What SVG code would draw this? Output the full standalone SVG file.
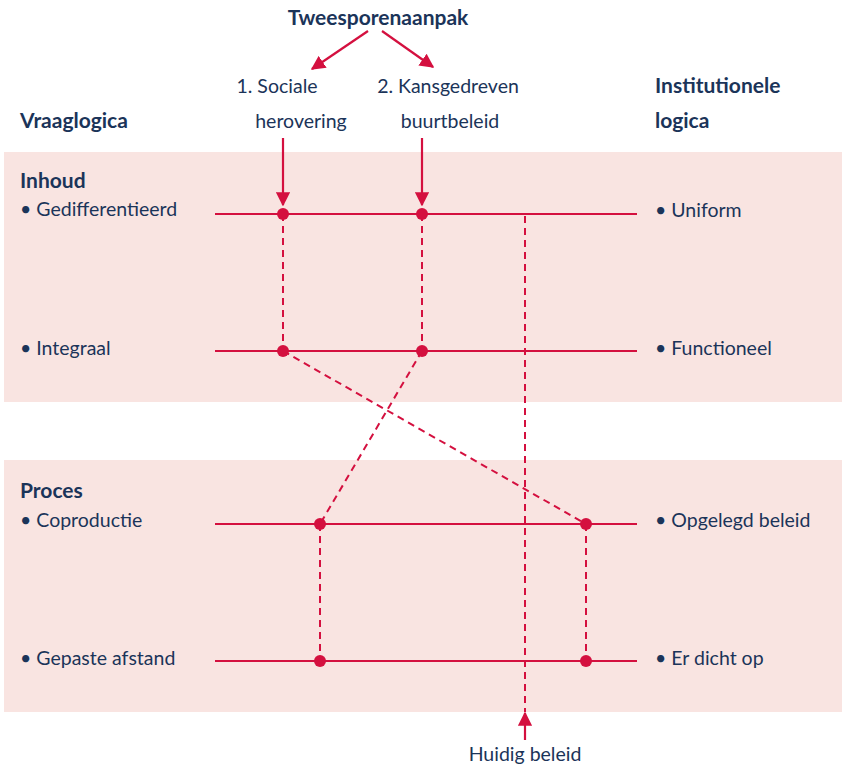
<svg xmlns="http://www.w3.org/2000/svg" width="842" height="768" viewBox="0 0 842 768">
<style>
text{font-family:Lato,"Open Sans","Liberation Sans",sans-serif;font-size:19.5px;fill:#1b3459}
.b{font-weight:bold;font-size:21px}
.m{text-anchor:middle}
.band{fill:#f9e4e1}
.ax{stroke:#d4103f;stroke-width:2.2;fill:none}
.d{stroke:#d4103f;stroke-width:2;stroke-dasharray:7,5;fill:none}
.dot{fill:#d4103f}
</style>
<defs>
<marker id="ah" viewBox="0 0 10 10" refX="9" refY="5" markerWidth="6.5" markerHeight="6.5" orient="auto" markerUnits="strokeWidth">
<path d="M0,0 L10,5 L0,10 z" fill="#d4103f"/>
</marker>
</defs>
<rect class="band" x="4" y="152" width="838" height="250"/>
<rect class="band" x="4" y="460" width="838" height="252"/>

<g id="title">
<text class="b m" x="378" y="25">Tweesporenaanpak</text>
</g>
<g id="spoor1">
<text class="m" x="277" y="93">1. Sociale</text>
<text class="m" x="301" y="128">herovering</text>
</g>
<g id="spoor2">
<text class="m" x="448" y="93">2. Kansgedreven</text>
<text class="m" x="450" y="128">buurtbeleid</text>
</g>
<g id="vraaglogica"><text class="b" x="20" y="128">Vraaglogica</text></g>
<g id="institutionele"><text class="b" x="655" y="93">Institutionele</text><text class="b" x="655" y="128">logica</text></g>
<g id="inhoud"><text class="b" x="20" y="188">Inhoud</text></g>
<g id="proces"><text class="b" x="20" y="498">Proces</text></g>
<g id="l1"><text x="20" y="216">• Gedifferentieerd</text></g>
<g id="l2"><text x="20" y="355">• Integraal</text></g>
<g id="l3"><text x="20" y="527">• Coproductie</text></g>
<g id="l4"><text x="20" y="665">• Gepaste afstand</text></g>
<g id="r1"><text x="655" y="217">• Uniform</text></g>
<g id="r2"><text x="655" y="355">• Functioneel</text></g>
<g id="r3"><text x="655" y="527">• Opgelegd beleid</text></g>
<g id="r4"><text x="655" y="665">• Er dicht op</text></g>
<g id="huidig"><text class="m" x="525" y="761">Huidig beleid</text></g>

<g id="connectors">
<line class="ax" x1="215" y1="214" x2="637" y2="214"/>
<line class="ax" x1="215" y1="351" x2="637" y2="351"/>
<line class="ax" x1="215" y1="524" x2="637" y2="524"/>
<line class="ax" x1="215" y1="661" x2="637" y2="661"/>
<line class="ax" x1="368" y1="31" x2="312" y2="69" marker-end="url(#ah)"/>
<line class="ax" x1="382" y1="31" x2="433" y2="67" marker-end="url(#ah)"/>
<line class="ax" x1="283" y1="138" x2="283" y2="205" marker-end="url(#ah)"/>
<line class="ax" x1="422" y1="138" x2="422" y2="205" marker-end="url(#ah)"/>
<line class="ax" x1="525" y1="740" x2="525" y2="713" marker-end="url(#ah)"/>
<line class="d" x1="283" y1="214" x2="283" y2="351"/>
<line class="d" x1="422" y1="214" x2="422" y2="351"/>
<line class="d" x1="283" y1="351" x2="586" y2="524"/>
<line class="d" x1="422" y1="351" x2="320" y2="524"/>
<line class="d" x1="320" y1="524" x2="320" y2="661"/>
<line class="d" x1="586" y1="524" x2="586" y2="661"/>
<line class="d" x1="525" y1="216" x2="525" y2="712"/>
</g>
<g id="dots">
<circle class="dot" cx="283" cy="214" r="6"/>
<circle class="dot" cx="422" cy="214" r="6"/>
<circle class="dot" cx="283" cy="351" r="6"/>
<circle class="dot" cx="422" cy="351" r="6"/>
<circle class="dot" cx="320" cy="524" r="6"/>
<circle class="dot" cx="586" cy="524" r="6"/>
<circle class="dot" cx="320" cy="661" r="6"/>
<circle class="dot" cx="586" cy="661" r="6"/>
</g>
</svg>
